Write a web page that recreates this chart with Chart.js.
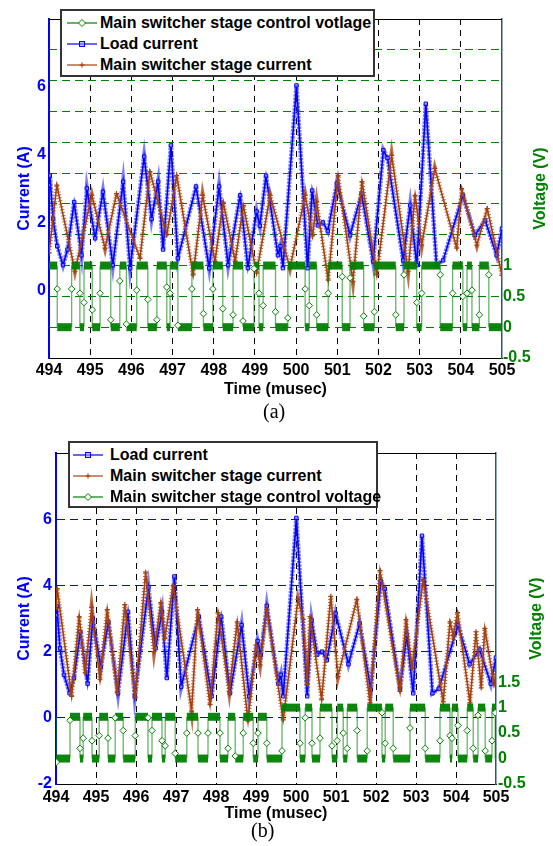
<!DOCTYPE html>
<html>
<head>
<meta charset="utf-8">
<script src="https://cdn.jsdelivr.net/npm/chart.js@4"></script>
<style>
  html, body { margin: 0; padding: 0; background: #fff; }
  #wrap { position: relative; width: 553px; height: 846px; overflow: hidden; font-family: "Liberation Sans", Arial, sans-serif; }
  canvas { position: absolute; left: 0; }
  #cvA { top: 0; }
  #cvB { top: 420px; }
  .legend { position: absolute; background: #fff; border: 2px solid #333; box-sizing: border-box; font-weight: bold; font-size: 16px; color: #000; padding-top: 1px; }
  .legend .row { display: flex; align-items: center; height: 21px; white-space: nowrap; }
  .legend svg { flex: none; }
  .cap { position: absolute; font-family: "Liberation Serif", "Times New Roman", serif; font-size: 20px; color: #000; }
</style>
</head>
<body>
<div id="wrap">
  <canvas id="cvA" width="553" height="400"></canvas>
  <canvas id="cvB" width="553" height="426"></canvas>
  <div class="cap" style="left:263px; top:400px;">(a)</div>
  <div class="cap" style="left:251px; top:819px;">(b)</div>
  <div class="legend" id="legA" style="left:60px; top:9px; width:315px; height:68px;"></div>
  <div class="legend" id="legB" style="left:68px; top:441px; width:310px; height:67px;"></div>
</div>
<script>
// ── data ────────────────────────────────────────────────────────────────
const timeTicks = [494, 495, 496, 497, 498, 499, 500, 501, 502, 503, 504, 505];

// load current (A), same record in both panels — [time µs, current]
const loadCurrent = [
  [494.00,3.10],[494.02,3.38],[494.10,2.10],[494.20,1.30],[494.34,0.74],[494.45,1.20],
  [494.61,2.60],[494.79,1.03],[494.92,3.00],[495.12,1.53],[495.31,2.90],[495.55,0.74],
  [495.80,3.20],[495.97,0.65],[496.31,3.94],[496.49,2.10],[496.65,3.20],[496.77,1.20],
  [496.96,4.27],[497.13,0.94],[497.57,3.06],[497.89,0.65],[498.13,3.06],[498.35,0.74],
  [498.64,2.80],[498.83,0.65],[499.04,2.32],[499.12,1.90],[499.27,3.38],[499.56,1.03],
  [499.62,1.30],[499.68,0.65],[500.01,6.04],[500.28,0.65],[500.39,2.94],[500.53,1.91],
  [500.65,2.00],[500.77,1.74],[500.99,3.15],[501.31,1.62],[501.59,2.85],[501.87,0.85],
  [502.12,4.13],[502.22,3.90],[502.60,0.88],[502.77,2.50],[502.93,0.74],[503.15,5.50],
  [503.41,0.74],[503.57,0.88],[504.05,2.80],[504.34,1.62],[504.59,2.06],[504.87,1.03],
  [505.00,1.82]
];

// main switcher stage current (A), panel (a)
const mainCurrentA = [
  [494.00,1.10],[494.19,3.10],[494.63,0.56],[495.04,2.80],[495.36,1.24],[495.64,2.85],
  [496.21,0.94],[496.45,3.50],[496.86,1.63],[497.10,3.39],[497.50,0.45],[497.73,2.80],
  [498.03,0.85],[498.23,2.60],[498.52,0.85],[498.72,2.50],[499.04,0.50],[499.37,2.80],
  [499.85,0.65],[500.22,2.80],[500.40,1.60],[500.50,2.60],[500.78,0.30],[501.02,3.38],
  [501.38,0.26],[501.60,3.20],[501.96,0.45],[502.32,3.98],[502.72,0.56],[502.89,2.80],
  [503.05,1.33],[503.37,3.59],[503.90,1.24],[504.02,3.00],[504.39,1.33],[504.64,2.41],
  [505.00,0.44]
];

// main switcher stage current (A), panel (b)
const mainCurrentB = [
  [494.00,3.30],[494.03,3.90],[494.39,0.65],[494.58,3.06],[494.73,1.36],[494.89,3.33],
  [495.10,1.15],[495.28,3.27],[495.53,0.76],[495.72,3.42],[495.98,0.60],[496.24,4.40],
  [496.45,2.00],[496.62,3.48],[496.72,2.40],[496.93,4.00],[497.39,0.20],[497.54,3.27],
  [497.85,0.40],[498.05,3.18],[498.33,0.80],[498.53,2.90],[498.80,-0.10],[499.00,2.20],
  [499.10,1.60],[499.27,3.27],[499.68,-0.06],[500.05,3.58],[500.18,2.97],[500.28,1.00],
  [500.35,3.06],[500.64,0.55],[500.87,3.67],[501.05,1.25],[501.52,3.58],[501.85,0.45],
  [502.10,4.45],[502.60,0.80],[502.75,2.97],[502.90,1.50],[503.18,4.18],[503.68,0.48],
  [503.85,2.90],[503.93,2.50],[504.04,3.18],[504.35,0.45],[504.50,2.60],[504.63,0.90],
  [504.72,2.70],[504.95,1.00],[505.00,1.30]
];

// control voltage (V): [on, off, level, sample on rising edge, sample on falling edge]
const controlA = [
  [494.00,494.20,1.00,null,0.62],[494.55,494.75,1.00,0.62,0.55],[494.85,495.05,1.00,0.40,0.28],
  [495.24,495.50,1.00,0.55,0.12],[495.72,495.88,1.00,0.75,0.05],[496.13,496.40,1.00,0.60,0.45],
  [496.62,496.86,1.00,0.12,0.65],[496.94,497.13,1.00,0.55,0.03],[497.47,497.75,1.00,0.62,0.22],
  [497.98,498.22,1.00,0.62,0.30],[498.47,498.71,1.00,0.20,0.10],[498.98,499.10,1.00,0.95,0.55],
  [499.20,499.50,1.00,0.35,0.25],[499.80,500.22,1.00,0.15,0.62],[500.32,500.50,1.00,0.35,0.20],
  [500.78,501.12,1.00,0.55,0.82],[501.31,501.64,1.00,0.80,0.18],[501.90,502.42,1.00,0.25,0.20],
  [502.62,502.93,1.00,0.85,0.40],[503.05,503.50,1.00,0.55,0.85],[503.80,504.05,1.00,0.55,0.50],
  [504.15,504.27,1.00,0.55,0.60],[504.45,504.68,1.00,0.20,0.85]
];
const controlB = [
  [494.00,494.01,0.82,null,-0.07],[494.35,494.60,0.82,0.75,0.20],[494.68,494.90,0.82,0.40,0.35],
  [495.08,495.30,0.82,0.45,0.40],[495.48,495.68,0.82,0.80,0.55],[495.98,496.30,0.82,0.45,0.80],
  [496.40,496.65,0.82,0.55,0.35],[496.73,496.98,0.82,0.25,0.10],[497.27,497.55,0.82,0.50,0.50],
  [497.80,498.10,0.82,0.50,0.50],[498.30,498.48,0.82,0.20,0.05],[498.68,498.93,0.82,0.50,0.30],
  [499.05,499.27,0.82,0.50,0.30],[499.65,500.10,1.00,0.15,0.30],[500.23,500.40,1.00,0.80,0.30],
  [500.60,500.90,1.00,0.40,0.25],[501.03,501.18,1.00,0.35,0.50],[501.28,501.53,1.00,0.20,0.55],
  [501.78,502.15,1.00,0.15,0.90],[502.23,502.43,1.00,0.30,0.20],[502.85,503.23,1.00,0.60,0.20],
  [503.60,503.85,1.00,0.35,0.45],[503.90,504.05,1.00,0.40,0.65],[504.28,504.43,1.00,0.55,0.20],
  [504.55,504.73,1.00,0.85,0.15],[504.90,504.98,1.00,0.35,0.90]
];

// ── style ───────────────────────────────────────────────────────────────
const BLUE = "#0000ff", BROWN = "#a5400f", GREEN = "#008000", TEAL = "#2a5a6a";
const FONT = "'Liberation Sans', Arial, sans-serif";
Chart.defaults.font.family = FONT;

const pts = arr => arr.map(([x, y]) => ({ x, y }));

function stepData(list) {
  const out = [];
  for (const [on, off, level, rise, fall] of list) {
    if (on > 494) out.push({ x: on, y: 0 });
    if (rise != null) out.push({ x: on, y: rise, mid: true });
    out.push({ x: on, y: level }, { x: off, y: level });
    if (fall != null) out.push({ x: off, y: fall, mid: true });
    out.push({ x: off, y: 0 });
  }
  out.push({ x: 505, y: 0 });
  return out;
}

function datasets(main, control) {
  return [
    { data: stepData(control), yAxisID: "y1", order: 0,
      borderColor: GREEN, borderWidth: 1.3,
      pointStyle: "rectRot", pointRadius: c => c.raw && c.raw.mid ? 3.3 : 0,
      pointBackgroundColor: "#fff", pointBorderColor: GREEN, pointBorderWidth: 1,
      segment: {
        borderWidth: c => c.p0.parsed.y === c.p1.parsed.y ? 8 : 1.3,
        borderColor: c => c.p0.parsed.y === c.p1.parsed.y ? "rgba(0,128,0,0.95)" : "rgba(0,128,0,0.6)",
      } },
    { data: pts(main), yAxisID: "y", order: 1, borderColor: BROWN, borderWidth: 1.6,
      pointStyle: "cross", pointRadius: 2.5, pointBorderColor: BROWN, pointBorderWidth: 1.2 },
    { data: pts(main), yAxisID: "y", order: 2, borderColor: "rgba(165,64,15,0.75)",
      borderWidth: 4.5, borderDash: [1, 2], pointRadius: 0 },
    { data: pts(loadCurrent), yAxisID: "y", order: 3, borderColor: BLUE, borderWidth: 1.6,
      pointStyle: "rect", pointRadius: 2.4, pointBorderColor: BLUE,
      pointBackgroundColor: "rgba(150,150,255,0.7)", pointBorderWidth: 1 },
    { data: pts(loadCurrent), yAxisID: "y", order: 4, borderColor: "rgba(40,40,255,0.6)",
      borderWidth: 4.5, borderDash: [2.5, 1], pointRadius: 0 },
  ];
}

// top border + right-hand title (reads bottom-to-top like the left one)
const framePlugin = {
  id: "frame",
  afterDraw(chart, args, opts) {
    const { ctx, chartArea: a } = chart;
    ctx.save();
    ctx.strokeStyle = "#000"; ctx.lineWidth = 1;
    ctx.beginPath(); ctx.moveTo(a.left, a.top + 0.5); ctx.lineTo(a.right, a.top + 0.5); ctx.stroke();
    ctx.translate(opts.x, (a.top + a.bottom) / 2);
    ctx.rotate(-Math.PI / 2);
    ctx.fillStyle = GREEN;
    ctx.font = "bold 16px " + FONT;
    ctx.textAlign = "center"; ctx.textBaseline = "middle";
    ctx.fillText(opts.text, 0, 0);
    ctx.restore();
  },
};

const bold16 = { size: 16, weight: "bold" };
const edge = (v, lo, hi) => v <= lo + 1e-9 || v >= hi - 1e-9;

function panel(id, o) {
  return new Chart(document.getElementById(id), {
    type: "line",
    data: { datasets: datasets(o.main, o.control) },
    options: {
      responsive: false, animation: false, events: [],
      layout: { padding: { top: o.top, left: 0, right: 0, bottom: 0 } },
      plugins: { legend: { display: false }, tooltip: { enabled: false },
                 frame: { x: o.rightTitleX, text: "Voltage (V)" } },
      scales: {
        x: {
          type: "linear", min: 494, max: 505,
          afterBuildTicks: s => { s.ticks = timeTicks.map(v => ({ value: v })); },
          afterFit: s => { s.height = o.xHeight; },
          ticks: { color: "#000", font: bold16, padding: o.xPad, maxRotation: 0 },
          grid: { drawTicks: false, color: c => edge(c.tick.value, 494, 505) ? "transparent" : "#000", lineWidth: 1 },
          border: { color: "#000", width: 1, dash: [6, 5] },
          title: { display: true, text: "Time (musec)", color: "#000", font: bold16,
                   padding: { top: 0, bottom: o.titlePad } },
        },
        y: {
          position: "left", min: -2, max: 8,
          afterBuildTicks: s => { s.ticks = [-2, 0, 2, 4, 6, 8].map(v => ({ value: v })); },
          afterFit: s => { s.width = o.leftW; },
          ticks: { color: BLUE, font: bold16, padding: o.leftPad,
                   callback: v => (v === 8 || (v === -2 && !o.showMinus2)) ? "" : String(v) },
          grid: { display: o.blueGrid, drawTicks: false,
                  color: c => edge(c.tick.value, -2, 8) ? "transparent" : BLUE },
          border: { color: BLUE, width: 2, dash: [8, 5] },
          title: { display: true, text: "Current (A)", color: BLUE, font: bold16,
                   padding: { top: 15, bottom: 0 } },
        },
        y1: {
          position: "right", min: -0.5, max: o.vMax,
          afterBuildTicks: s => {
            const t = [];
            for (let k = 0; k <= Math.round((o.vMax + 0.5) / 0.5); k++) t.push({ value: -0.5 + k * 0.5 });
            s.ticks = t;
          },
          afterFit: s => { s.width = o.rightW; },
          ticks: { color: GREEN, font: bold16, padding: o.rightPad,
                   callback: v => v <= o.vLabelMax + 1e-9 ? String(Number(v.toFixed(1))) : "" },
          grid: { display: o.greenGrid, drawTicks: false,
                  color: c => edge(c.tick.value, -0.5, o.vMax) ? "transparent" : GREEN },
          border: { color: TEAL, width: 1.5, dash: [8, 5] },
        },
      },
    },
    plugins: [framePlugin],
  });
}

panel("cvA", { main: mainCurrentA, control: controlA, top: 19, xHeight: 42, xPad: 3, titlePad: 1,
  leftW: 49, rightW: 51, leftPad: 3, rightPad: 1, vMax: 5, vLabelMax: 1,
  showMinus2: false, blueGrid: false, greenGrid: true, rightTitleX: 541 });

panel("cvB", { main: mainCurrentB, control: controlB, top: 33, xHeight: 62, xPad: 4, titlePad: 23,
  leftW: 56, rightW: 57, leftPad: 4, rightPad: 2, vMax: 6, vLabelMax: 1.5,
  showMinus2: true, blueGrid: true, greenGrid: false, rightTitleX: 537 });

// ── legends ─────────────────────────────────────────────────────────────
const sample = {
  load:    `<line x1="0" y1="5" x2="30" y2="5" stroke="${BLUE}" stroke-width="1.2"/><rect x="12.5" y="2.5" width="5" height="5" fill="rgba(150,150,255,0.6)" stroke="${BLUE}"/>`,
  main:    `<line x1="0" y1="5" x2="30" y2="5" stroke="${BROWN}" stroke-width="1.2"/><path d="M15 2.5v5M12.5 5h5" stroke="${BROWN}" stroke-width="1.2"/>`,
  control: `<line x1="0" y1="5" x2="30" y2="5" stroke="${GREEN}" stroke-width="1.2"/><path d="M15 1.5L18.5 5L15 8.5L11.5 5Z" fill="#fff" stroke="${GREEN}"/>`,
};
function legend(id, items, pad, gap) {
  document.getElementById(id).innerHTML = items.map(([key, text]) =>
    `<div class="row" style="padding-left:${pad}px"><svg width="30" height="10">${sample[key]}</svg><span style="margin-left:${gap}px">${text}</span></div>`).join("");
}
legend("legA", [["control", "Main switcher stage control votlage"], ["load", "Load current"], ["main", "Main switcher stage current"]], 5, 3);
legend("legB", [["load", "Load current"], ["main", "Main switcher stage current"], ["control", "Main switcher stage control voltage"]], 3, 7);
</script>
</body>
</html>
